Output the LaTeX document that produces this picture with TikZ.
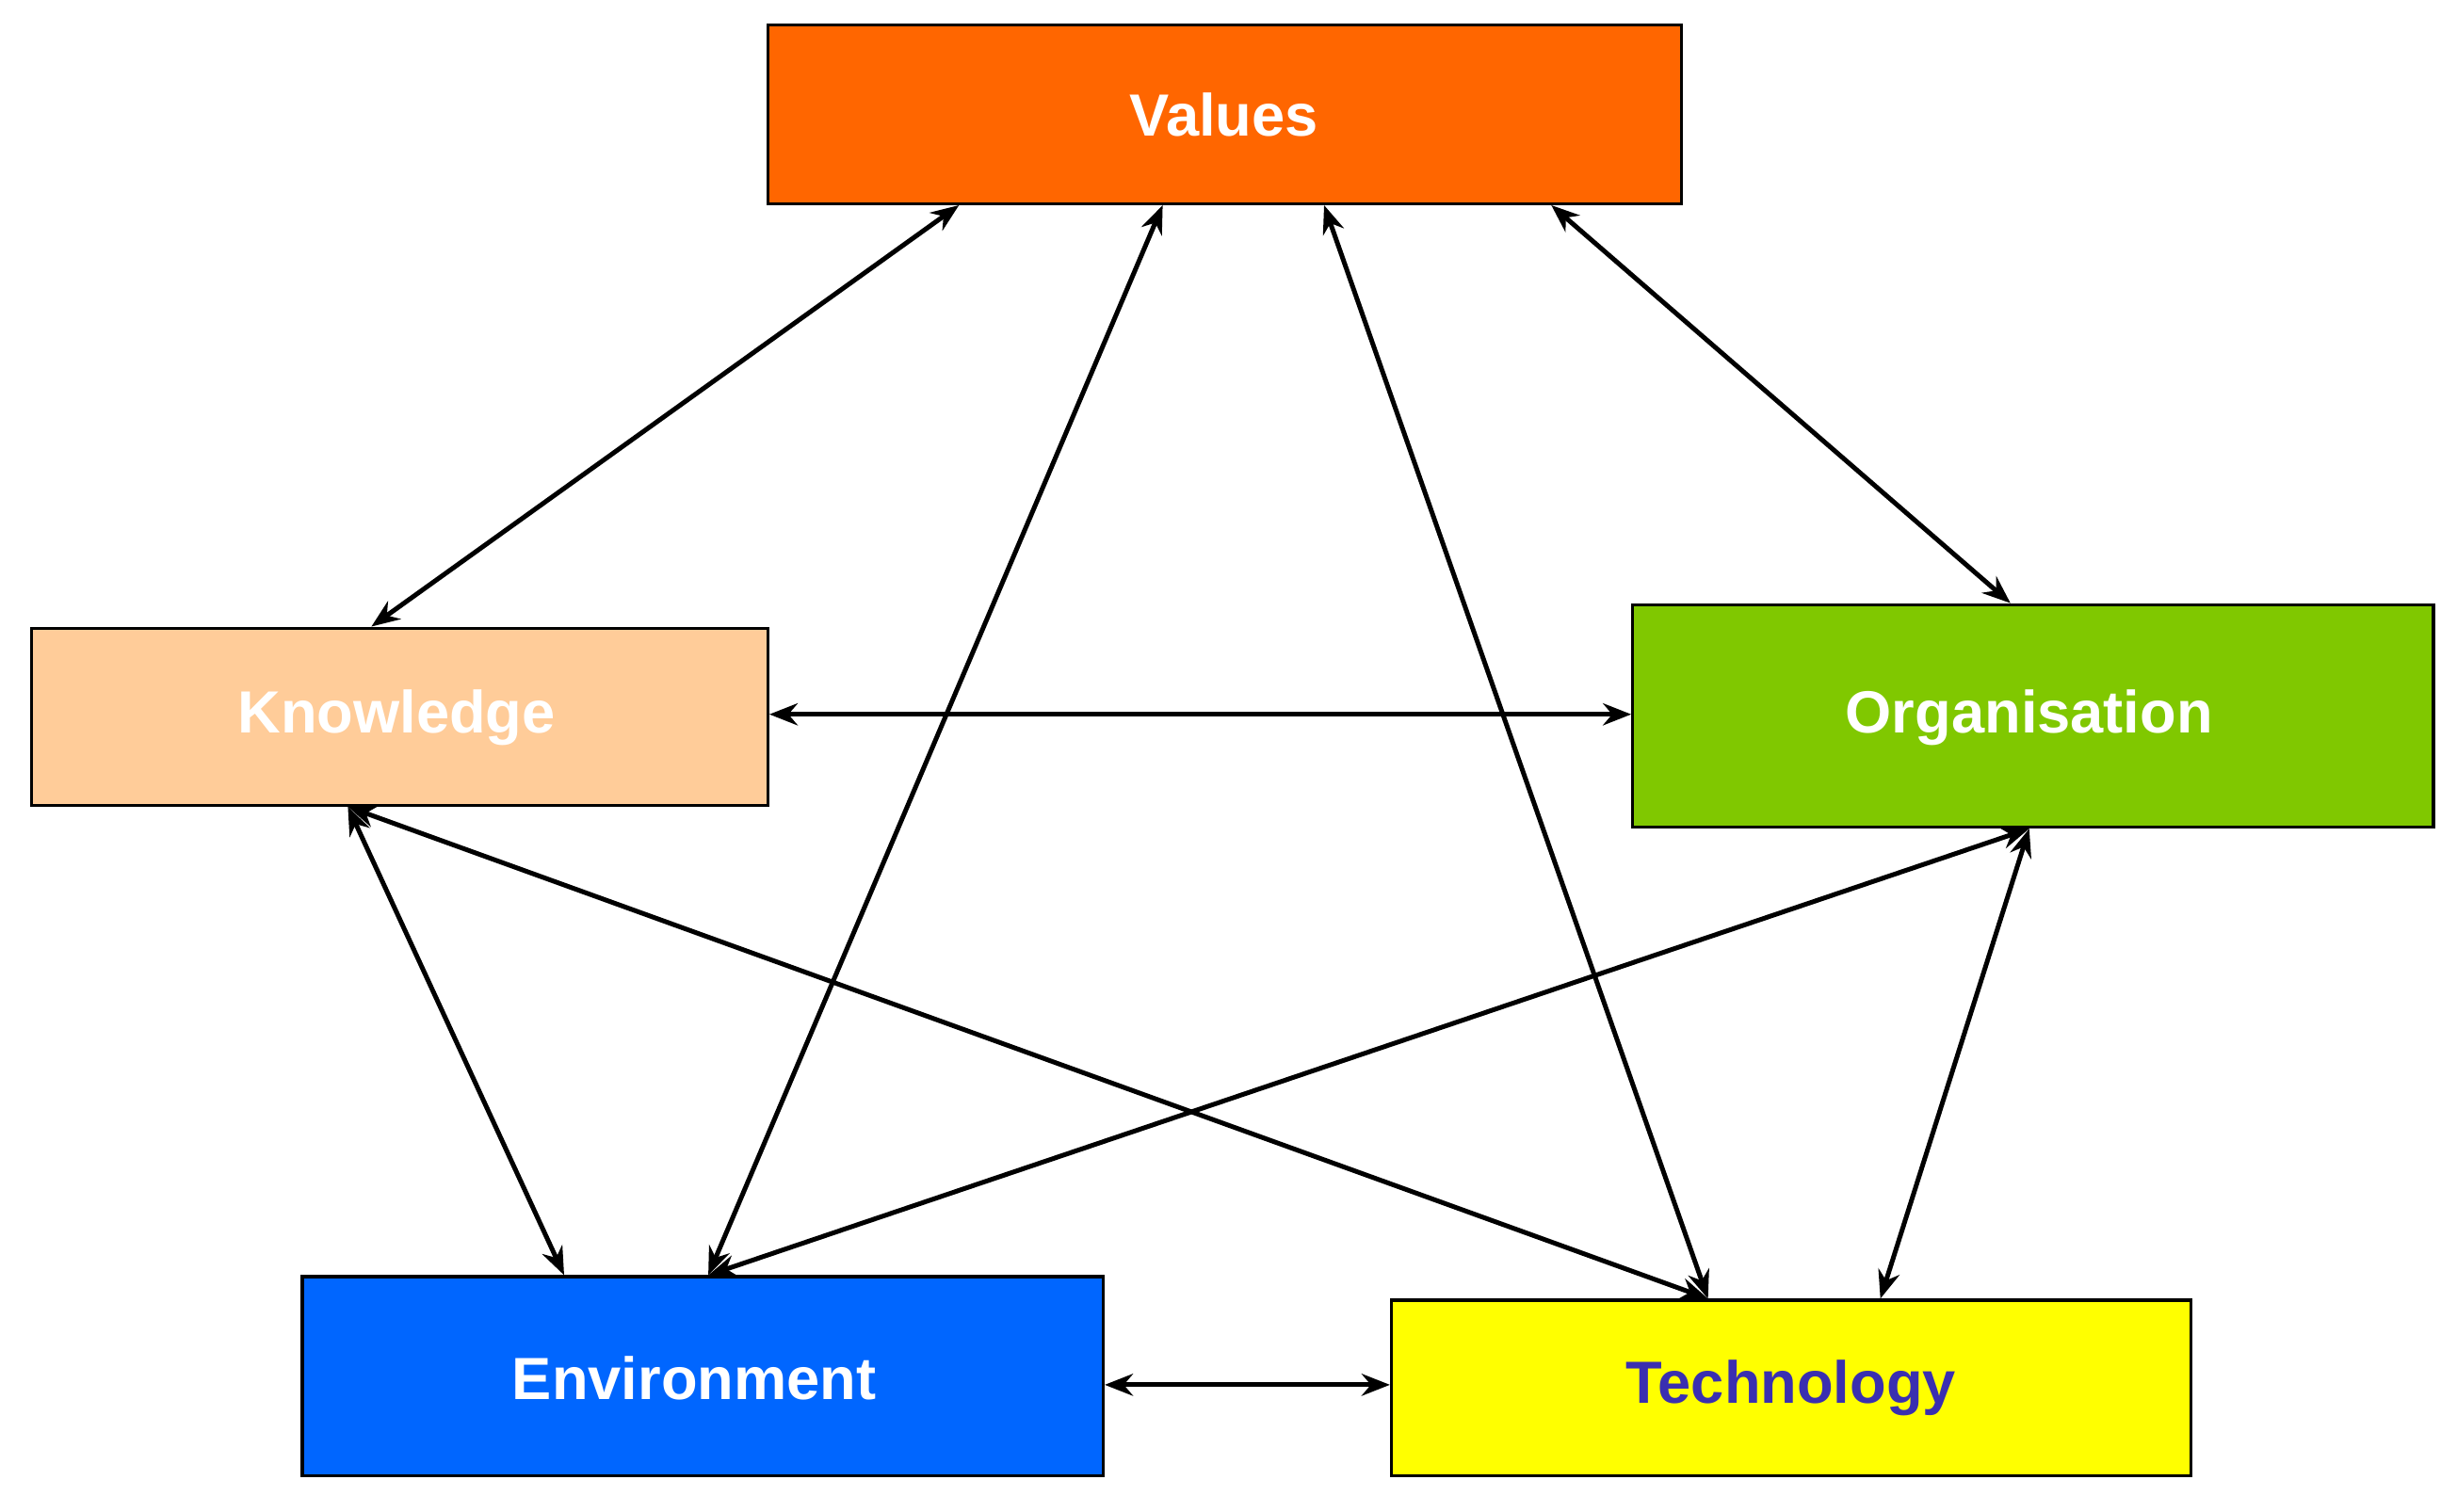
\documentclass[tikz,border=0pt]{standalone}
\usepackage{fontspec}
\setmainfont{Liberation Sans}
\usetikzlibrary{arrows.meta}
\begin{document}
\begin{tikzpicture}[x=1pt,y=-1pt,
  box/.style={draw=black,line width=2pt,font=\bfseries\fontsize{38}{44}\selectfont},
  link/.style={line width=3pt,{Stealth[length=18pt,width=14pt]}-{Stealth[length=18pt,width=14pt]}}]
\useasboundingbox (0,0) rectangle (1568,965);
\fill[white] (0,0) rectangle (1568,965);
\definecolor{cv}{HTML}{FF6600}\definecolor{ck}{HTML}{FFCC99}\definecolor{co}{HTML}{80C800}
\definecolor{ce}{HTML}{0066FF}\definecolor{ct}{HTML}{FFFF00}\definecolor{ctt}{HTML}{3A2FB0}
\draw[box,fill=cv] (490,16) rectangle (1073,130);
\node[font=\bfseries\fontsize{38}{44}\selectfont,text=white] (v) at (781,73) {Values};
\draw[box,fill=ck] (20,401) rectangle (490,514);
\node[font=\bfseries\fontsize{38}{44}\selectfont,text=white] (k) at (253,458) {Knowledge};
\draw[box,fill=co] (1042,386) rectangle (1553,528);
\node[font=\bfseries\fontsize{38}{44}\selectfont,text=white] (o) at (1295,458) {Organisation};
\draw[box,fill=ce] (193,815) rectangle (704,942);
\node[font=\bfseries\fontsize{38}{44}\selectfont,text=white] (e) at (443,880) {Environment};
\draw[box,fill=ct] (888,830) rectangle (1398,942);
\node[font=\bfseries\fontsize{38}{44}\selectfont,text=ctt] (t) at (1143,886) {Technology};
\coordinate (v1) at (612,131); \coordinate (v2) at (742,131);
\coordinate (v3) at (845,131); \coordinate (v4) at (990,131);
\coordinate (k1) at (237,400); \coordinate (k2) at (491,456); \coordinate (k3) at (222,515);
\coordinate (o1) at (1283,385); \coordinate (o2) at (1041,456); \coordinate (o3) at (1295,529);
\coordinate (e1) at (360,814); \coordinate (e2) at (452,814); \coordinate (e3) at (705,884);
\coordinate (t1) at (1090,829); \coordinate (t2) at (1200,829); \coordinate (t3) at (887,884);
\draw[link] (v1) -- (k1);
\draw[link] (v2) -- (e2);
\draw[link] (v3) -- (t1);
\draw[link] (v4) -- (o1);
\draw[link] (k2) -- (o2);
\draw[link] (k3) -- (e1);
\draw[link] (k3) -- (t1);
\draw[link] (o3) -- (e2);
\draw[link] (o3) -- (t2);
\draw[link] (e3) -- (t3);
\end{tikzpicture}
\end{document}
